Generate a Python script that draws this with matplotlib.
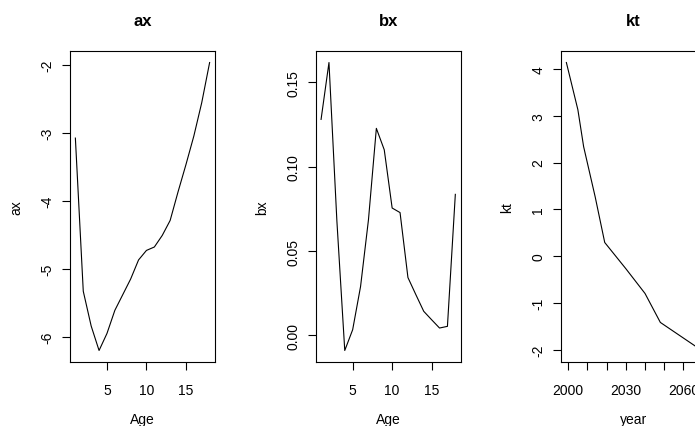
import matplotlib
matplotlib.use("Agg")
import matplotlib.pyplot as plt
from matplotlib.ticker import FixedLocator, FixedFormatter

plt.rcParams['font.family'] = ['Liberation Sans', 'DejaVu Sans']

# ---- data ----
ages = list(range(1, 19))
ax_vals = [-3.08, -5.33, -5.84, -6.20, -5.95, -5.61, -5.38, -5.15, -4.87,
           -4.73, -4.68, -4.51, -4.29, -3.87, -3.47, -3.05, -2.56, -1.97]
bx_vals = [0.128, 0.1617, 0.068, -0.0089, 0.0034, 0.029, 0.0685, 0.1227, 0.110,
           0.0755, 0.0728, 0.0343, 0.0242, 0.0143, 0.0093, 0.0044, 0.0054, 0.0836]
kt_years = [1999, 2005, 2008, 2014, 2019, 2030, 2040, 2048, 2057, 2066, 2069]
kt_vals = [4.14, 3.13, 2.34, 1.27, 0.29, -0.27, -0.80, -1.42, -1.67, -1.92, -2.02]

titles = ["ax", "bx", "kt"]
xlabels = ["Age", "Age", "year"]
ylabels = ["ax", "bx", "kt"]

ax_xticks = [5, 10, 15]
ax_yticks = [-6, -5, -4, -3, -2]
bx_yticks = [0.00, 0.05, 0.10, 0.15]
bx_ylabels = ["0.00", "0.05", "0.10", "0.15"]
kt_xticks = [2000, 2010, 2020, 2030, 2040, 2050, 2060, 2070]
kt_xticklabels = ["2000", "", "", "2030", "", "", "2060", ""]
kt_yticks = [-2, -1, 0, 1, 2, 3, 4]

W, H = 695, 427
fig = plt.figure(figsize=(W / 100, H / 100), dpi=100)

box_lefts = [70, 315.7, 561]
box_w = 145
box_top, box_bot = 52, 363

series = [(ages, ax_vals), (ages, bx_vals), (kt_years, kt_vals)]
axes = []
for i, (xs, ys) in enumerate(series):
    l = box_lefts[i]
    a = fig.add_axes([l / W, 1 - box_bot / H, box_w / W, (box_bot - box_top) / H])
    a.plot(xs, ys, color='black', lw=0.8)
    a.margins(x=0.04, y=0.04)
    for s in a.spines.values():
        s.set_linewidth(0.8)
        s.set_color('black')
    a.tick_params(axis='x', length=5.8, width=0.8, pad=9.5, labelsize=10)
    a.tick_params(axis='y', length=5.8, width=0.8, pad=5.5, labelsize=10)
    axes.append(a)
    cx = l + box_w / 2
    fig.text(cx / W, 1 - 21.7 / H, titles[i], ha='center', va='center',
             fontsize=12, fontweight='bold')
    fig.text(cx / W, 1 - 420 / H, xlabels[i], ha='center', va='center', fontsize=10)
    fig.text((l - 53.5) / W, 1 - ((box_top + box_bot) / 2) / H, ylabels[i],
             ha='center', va='center', rotation=90, fontsize=10)

a1, a2, a3 = axes
a1.set_xticks(ax_xticks)
a1.set_yticks(ax_yticks)
a1.set_yticklabels([str(v) for v in ax_yticks])
a2.set_xticks(ax_xticks)
a2.set_yticks(bx_yticks)
a2.set_yticklabels(bx_ylabels)
a3.set_xticks(kt_xticks)
a3.set_xticklabels(kt_xticklabels)
a3.set_yticks(kt_yticks)
a3.set_yticklabels([str(v) for v in kt_yticks])

for a in axes:
    for lbl in a.get_yticklabels():
        lbl.set_rotation(90)
        lbl.set_va('center')
        lbl.set_ha('right')

fig.savefig("out.png", dpi=100)
